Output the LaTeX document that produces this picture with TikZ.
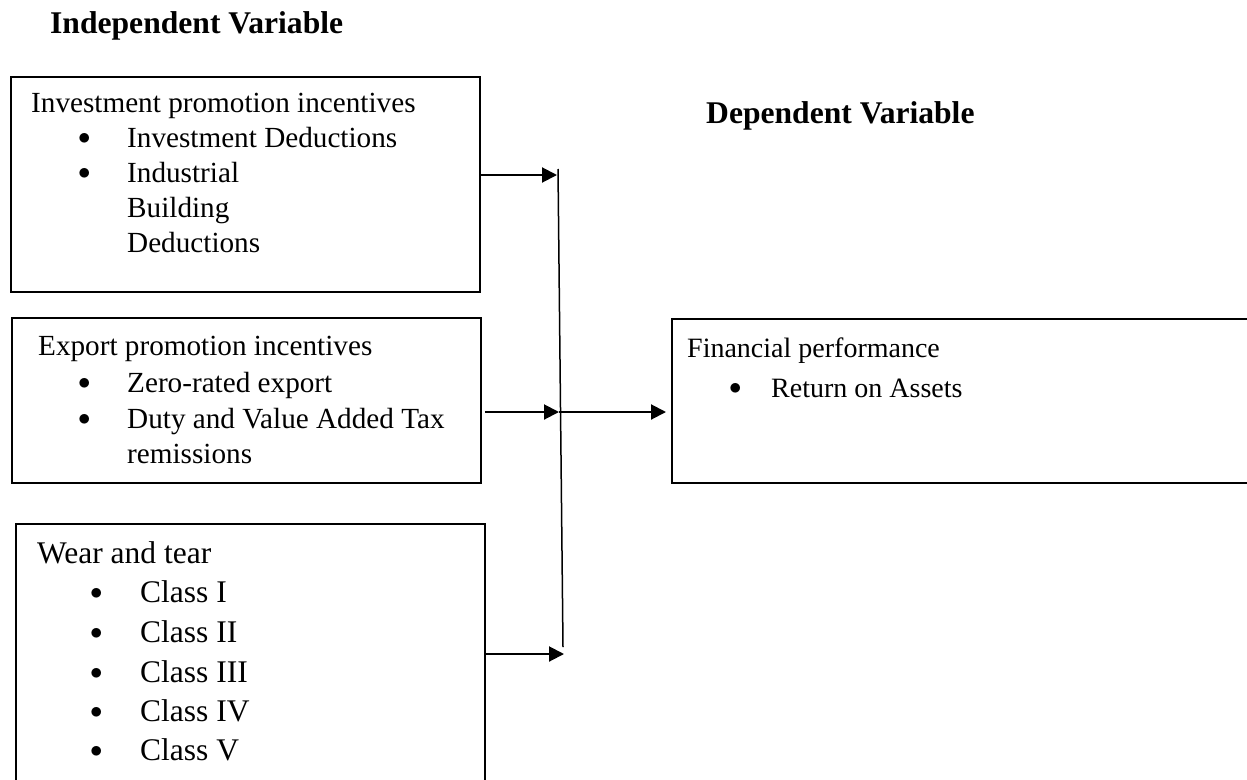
\documentclass[tikz,border=0pt]{standalone}
\usepackage{fontspec}
\setmainfont{Liberation Serif}
\usetikzlibrary{arrows.meta}
\newcommand{\bul}[1]{\makebox[#1][l]{\raisebox{2.5pt}{$\bullet$}}}
\tikzset{varbox/.style={draw, line width=1.8pt, inner sep=0pt, anchor=north west},
         txt/.style={anchor=base west, inner sep=0pt, font=\fontsize{29.2}{35}\selectfont},
         wtxt/.style={txt, font=\fontsize{31.5}{38}\selectfont},
         ftxt/.style={txt, font=\fontsize{28}{34}\selectfont},
         head/.style={anchor=base west, inner sep=0pt, font=\fontsize{31.6}{38}\selectfont\bfseries},
         arr/.style={-{Triangle[length=15pt,width=15pt]}, line width=2pt}}

\begin{document}
\begin{tikzpicture}[x=1pt,y=-1pt]
\useasboundingbox (0,0) rectangle (1247,779);
\clip (0,0) rectangle (1247,779);

\node[head] (indep) at (50,33) {Independent Variable};
\node[head] (dep) at (706,123) {Dependent Variable};

% boxes
\node[varbox, minimum width=469pt, minimum height=215pt] (inv) at (10,76) {};
\node[varbox, minimum width=469pt, minimum height=165pt] (exp) at (11,317) {};
\node[varbox, minimum width=469pt, minimum height=275pt] (wear) at (15,523) {};
\node[varbox, minimum width=620pt, minimum height=164pt] (fin) at (671,318) {};

% investment
\node[txt] (inv0) at (31,112) {Investment promotion incentives};
\node[txt] (inv1) at (78,147) {\bul{49pt}Investment Deductions};
\node[txt] (inv2) at (78,182) {\bul{49pt}Industrial};
\node[txt] (inv3) at (127,217) {Building};
\node[txt] (inv4) at (127,252) {Deductions};

% export
\node[txt] (exp0) at (38,355) {Export promotion incentives};
\node[txt] (exp1) at (78,392) {\bul{49pt}Zero-rated export};
\node[txt] (exp2) at (78,428) {\bul{49pt}Duty and Value Added Tax};
\node[txt] (exp3) at (127,463) {remissions};

% wear and tear
\node[wtxt] (wear0) at (37,563) {Wear and tear};
\node[wtxt] (wear1) at (90,602) {\bul{50pt}Class I};
\node[wtxt] (wear2) at (90,642) {\bul{50pt}Class II};
\node[wtxt] (wear3) at (90,682) {\bul{50pt}Class III};
\node[wtxt] (wear4) at (90,721) {\bul{50pt}Class IV};
\node[wtxt] (wear5) at (90,760) {\bul{50pt}Class V};

% financial performance
\node[ftxt] (fin0) at (687,357) {Financial performance};
\node[ftxt] (fin1) at (729,397) {\bul{42pt}Return on Assets};

% connectors
\coordinate (jtop) at (558,169);
\coordinate (jbot) at (563,647);
\coordinate (j1) at (557,175);
\coordinate (j2) at (559,412);
\coordinate (j3) at (564,654);
\draw[line width=1.5pt] (jtop) -- (jbot);
\draw[arr] (inv.east |- j1) -- (j1);
\draw[arr, shorten <=3pt] (exp.east |- j2) -- (j2);
\draw[arr] (wear.east |- j3) -- (j3);
\draw[arr, shorten >=5pt] (j2) -- (fin.west |- j2);

\end{tikzpicture}
\end{document}
